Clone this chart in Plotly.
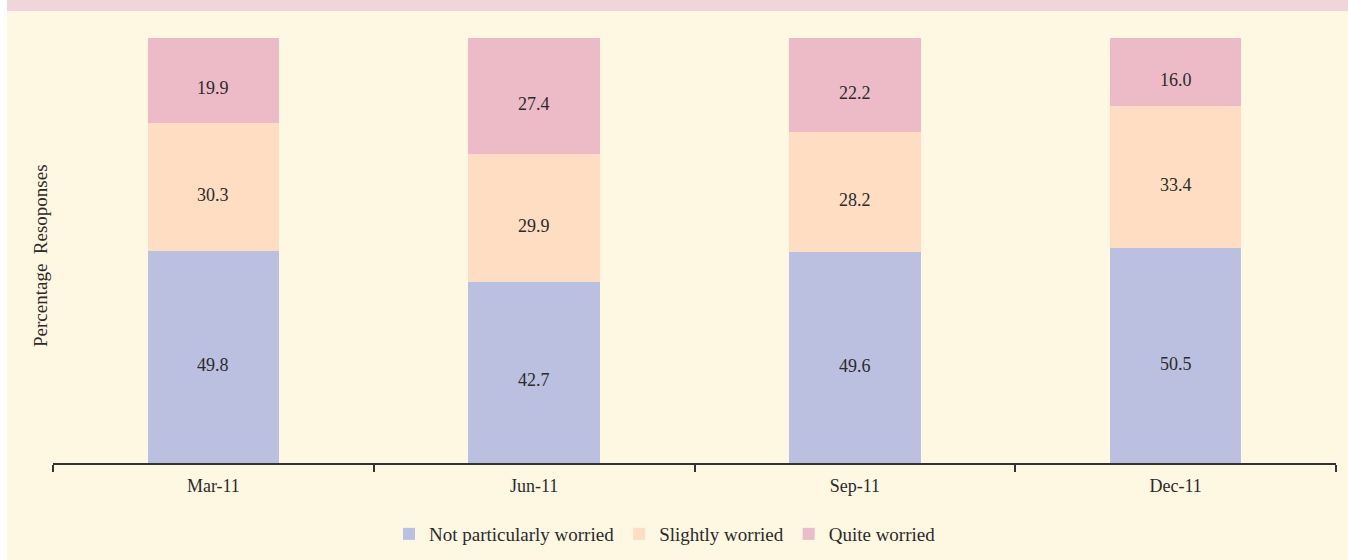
import plotly.graph_objects as go

categories = ["Mar-11", "Jun-11", "Sep-11", "Dec-11"]
not_worried = [49.8, 42.7, 49.6, 50.5]
slightly_worried = [30.3, 29.9, 28.2, 33.4]
quite_worried = [19.9, 27.4, 22.2, 16.0]

series = [
    ("Not particularly worried", not_worried, "#BBBFE0"),
    ("Slightly worried", slightly_worried, "#FEDDC2"),
    ("Quite worried", quite_worried, "#EDBBC8"),
]

FONT = "Liberation Serif"
TXT = "#2b2b2b"
fig = go.Figure()
annotations = []
base = [0.0] * len(categories)
for name, vals, color in series:
    fig.add_trace(go.Bar(
        x=categories, y=vals, name=name,
        marker=dict(color=color, line=dict(width=0)),
        hoverinfo="skip",
    ))
    for i, (c, v) in enumerate(zip(categories, vals)):
        annotations.append(dict(
            x=c, y=base[i] + v / 2, xref="x", yref="y", text=f"{v:.1f}",
            showarrow=False, yshift=-8, xanchor="center", yanchor="middle",
            font=dict(family=FONT, size=18, color=TXT)))
        base[i] += v

W, H = 1348, 560
ml, mr, mt, mb = 53, 12, 38, 97
pw, ph = W - ml - mr, H - mt - mb

def px_x(x):
    return (x - ml) / pw

def px_y(y):
    return (H - mb - y) / ph

annotations.append(dict(
    text="Percentage  Resoponses", xref="paper", yref="paper",
    x=px_x(40), y=px_y(256), textangle=-90, showarrow=False,
    xanchor="center", yanchor="middle",
    font=dict(family=FONT, size=19, color=TXT)))

fig.update_layout(
    width=W, height=H,
    barmode="stack", bargap=0.59,
    margin=dict(l=ml, r=mr, t=mt, b=mb, autoexpand=False),
    paper_bgcolor="#FEF7E2", plot_bgcolor="#FEF7E2",
    font=dict(family=FONT, size=18, color=TXT),
    xaxis=dict(
        showgrid=False, showline=True, linecolor="#333333", linewidth=1.5,
        ticks="outside", tickson="boundaries", ticklen=7, tickwidth=1.5, tickcolor="#333333",
        tickfont=dict(family=FONT, size=18, color=TXT), ticklabelstandoff=6,
        automargin=False,
    ),
    yaxis=dict(range=[0, 100], showgrid=False, showticklabels=False, zeroline=False,
               showline=False, ticks="", automargin=False),
    legend=dict(orientation="h", xref="container", yref="container",
                x=389 / W, xanchor="left", y=(H - 534) / H, yanchor="middle",
                font=dict(family=FONT, size=19, color=TXT), traceorder="normal",
                bgcolor="rgba(0,0,0,0)"),
    showlegend=True,
    shapes=[
        dict(type="rect", xref="paper", yref="paper", layer="below",
             x0=px_x(0), x1=px_x(7), y0=px_y(560), y1=px_y(0),
             fillcolor="white", line=dict(width=0)),
        dict(type="rect", xref="paper", yref="paper", layer="below",
             x0=px_x(7), x1=px_x(1348), y0=px_y(11), y1=px_y(0),
             fillcolor="#F0D6DB", line=dict(width=0)),
    ],
    annotations=annotations,
)

fig.write_html("out.html", config={"displayModeBar": False},
               post_script="document.body.style.margin='0';document.body.style.padding='0';")
